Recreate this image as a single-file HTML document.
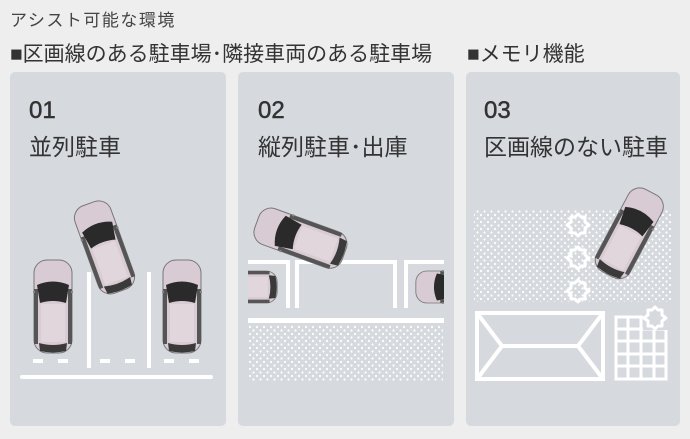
<!DOCTYPE html>
<html><head><meta charset="utf-8"><style>
body{margin:0;width:690px;height:439px;background:#eeeeee;overflow:hidden;position:relative;font-family:"Liberation Sans","Noto Sans CJK JP",sans-serif;color:#333}
.t{position:absolute;white-space:nowrap}
.p{position:absolute;top:72px;width:216px;height:354px;background:#d6d9dd;border-radius:5px}
svg{position:absolute;left:0;top:0}
</style></head><body>
<div class="t" style="left:10px;top:6px;font-size:17px;letter-spacing:1.5px;color:#444">アシスト可能な環境</div>
<div class="t" style="left:10px;top:38px;font-size:21px;color:#333">■区画線のある駐車場･隣接車両のある駐車場</div>
<div class="t" style="left:467px;top:38px;font-size:21px;color:#333">■メモリ機能</div>
<div class="p" style="left:10px"></div>
<div class="p" style="left:238px"></div>
<div class="p" style="left:466px;width:214px"></div>
<div class="t" style="left:29px;top:97px;font-size:24px;color:#333;-webkit-text-stroke:0.5px #333">01</div>
<div class="t" style="left:29px;top:128px;font-size:23px;color:#333">並列駐車</div>
<div class="t" style="left:258px;top:97px;font-size:24px;color:#333;-webkit-text-stroke:0.5px #333">02</div>
<div class="t" style="left:258px;top:128px;font-size:23px;color:#333">縦列駐車･出庫</div>
<div class="t" style="left:484px;top:97px;font-size:24px;color:#333;-webkit-text-stroke:0.5px #333">03</div>
<div class="t" style="left:484px;top:128px;font-size:23px;color:#333">区画線のない駐車</div>
<svg width="690" height="439" viewBox="0 0 690 439">
<defs>
<pattern id="dots" width="7" height="7" patternUnits="userSpaceOnUse">
<circle cx="1.5" cy="1.5" r="1.1" fill="#fff"/><circle cx="5" cy="5" r="1.1" fill="#fff"/>
</pattern>
<clipPath id="c2"><rect x="248" y="200" width="196" height="120"/></clipPath>
<symbol id="car" viewBox="0 0 40 95" width="40" height="95">
<rect x="1" y="1" width="38" height="93" rx="13" fill="#d9cbd4" stroke="#777" stroke-width="1"/>
<rect x="1" y="30" width="4" height="55" fill="#555"/><rect x="35" y="30" width="4" height="55" fill="#555"/>
<path d="M4 26 Q20 19 36 26 L33 44 Q20 40 7 44 Z" fill="#2a2a2a"/>
<rect x="8" y="45" width="24" height="38" fill="#e0d6dc"/>
<path d="M6 84 Q20 88 34 84 L33 92 Q20 95 7 92 Z" fill="#3a3a3a"/>
<rect x="-3" y="32" width="5" height="2" fill="#888"/><rect x="38" y="32" width="5" height="2" fill="#888"/>
</symbol>
<symbol id="gear" viewBox="-14 -14 28 28" width="28" height="28">
<path d="M0-11 L3-8 7-8 7-3 11 0 7 3 7 8 3 8 0 11 -3 8 -7 8 -7 3 -11 0 -7-3 -7-8 -3-8Z" fill="none" stroke="#fff" stroke-width="3" stroke-linejoin="round"/>
</symbol>
</defs>
<!-- panel 1 -->
<g fill="#fff">
<rect x="87" y="272" width="4" height="96"/><rect x="147" y="272" width="4" height="96"/>
<rect x="33" y="359" width="10" height="4"/><rect x="58" y="359" width="10" height="4"/>
<rect x="100" y="359" width="10" height="4"/><rect x="125" y="359" width="10" height="4"/>
<rect x="164" y="359" width="10" height="4"/><rect x="189" y="359" width="10" height="4"/>
<rect x="20" y="375" width="193" height="4" rx="2"/>
</g>
<use href="#car" x="33" y="259"/>
<use href="#car" x="162" y="259"/>
<use href="#car" x="84" y="200" transform="rotate(-20 104 246)"/>
<!-- panel 2 -->
<rect x="248" y="325" width="195" height="56" fill="url(#dots)"/>
<g fill="#fff">
<rect x="248" y="260" width="42" height="4"/><rect x="295" y="260" width="102" height="4"/><rect x="404" y="260" width="40" height="4"/>
<rect x="286" y="260" width="4" height="48"/><rect x="295" y="260" width="4" height="48"/>
<rect x="393" y="260" width="4" height="48"/><rect x="404" y="260" width="4" height="48"/>
<rect x="248" y="318" width="196" height="5"/>
</g>
<g clip-path="url(#c2)">
<g transform="translate(198 304) rotate(-90)"><use href="#car" x="0" y="0" width="34" height="80"/></g>
<g transform="translate(415 304) rotate(-90)"><use href="#car" x="0" y="0" width="34" height="80"/></g>
</g>
<g transform="rotate(-70 300 238)"><use href="#car" x="280" y="191" width="40" height="95"/></g>
<!-- panel 3 -->
<rect x="474" y="209" width="197" height="93" fill="url(#dots)"/>
<use href="#gear" x="564" y="211"/><use href="#gear" x="564" y="244"/><use href="#gear" x="564" y="277"/>
<use href="#car" x="610" y="186" transform="rotate(28 630 232)"/>
<g fill="none" stroke="#fff" stroke-width="4">
<rect x="477" y="313" width="126" height="66"/>
<path d="M477 313 L502 346 L578 346 L603 313 M477 379 L502 346 M578 346 L603 379"/>
<rect x="616" y="317" width="50" height="62" stroke-width="3"/>
<path d="M628 317V379M641 317V379M654 317V379M616 329H666M616 341H666M616 354H666M616 366H666" stroke-width="3"/>
</g>
<rect x="643" y="305" width="25" height="25" fill="#d6d9dd"/>
<use href="#gear" x="641" y="304"/>
</svg>
</body></html>
